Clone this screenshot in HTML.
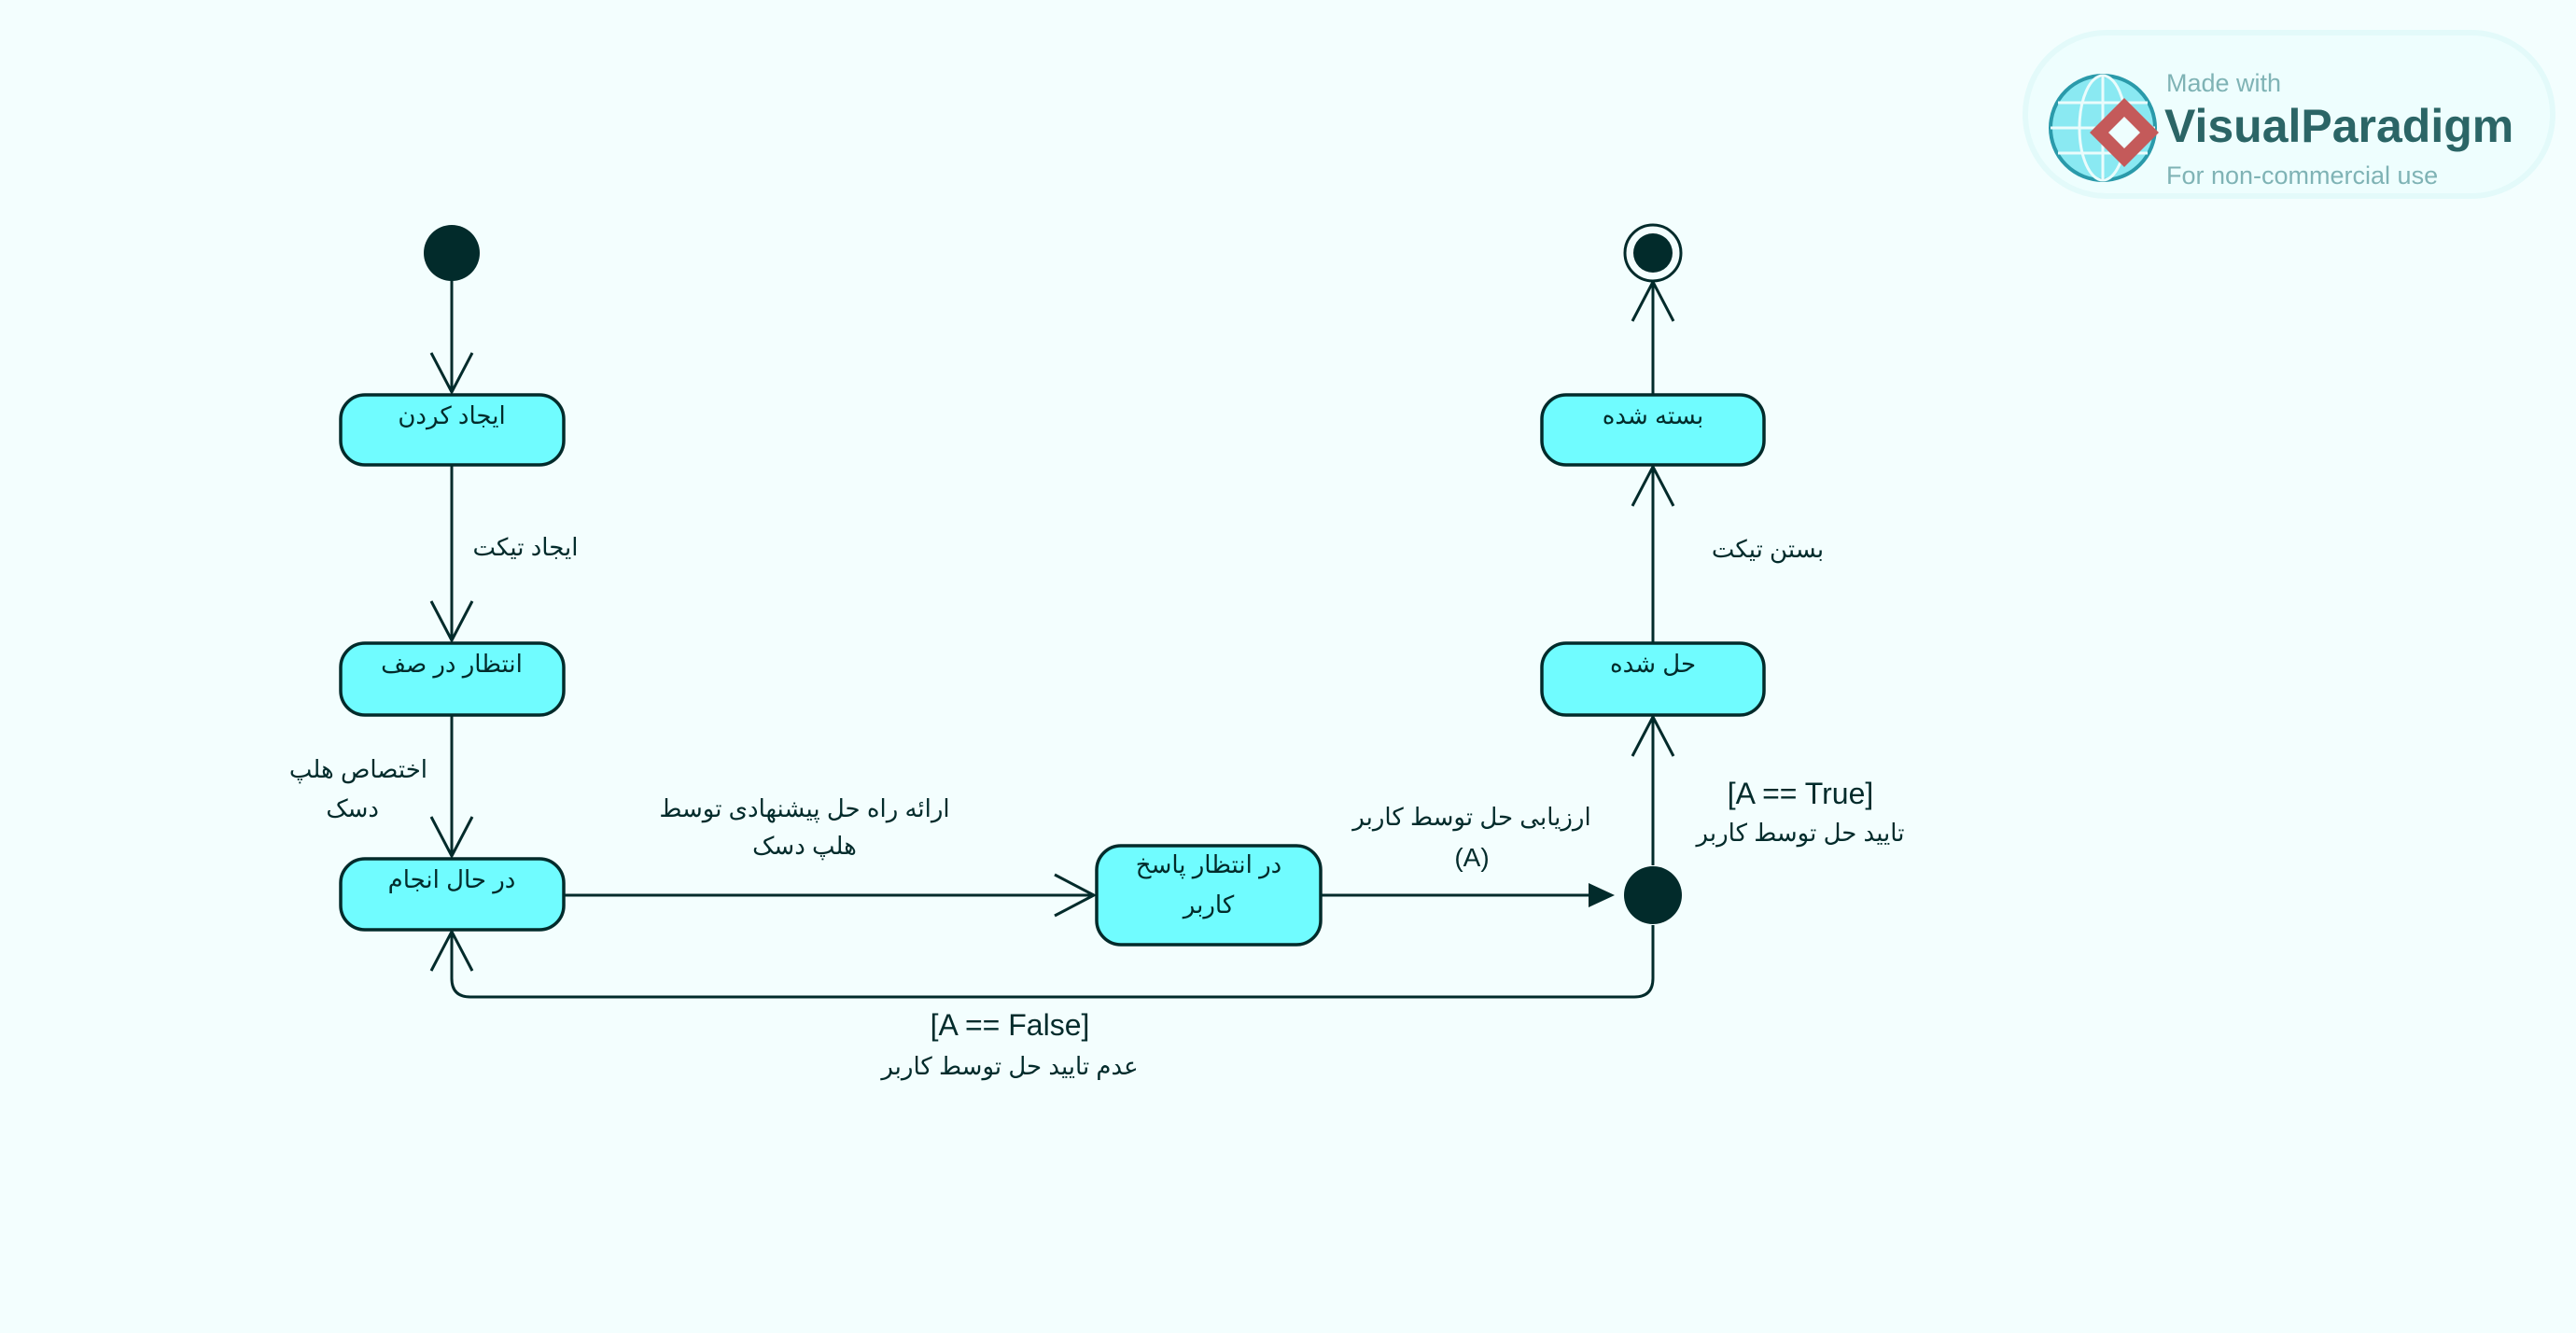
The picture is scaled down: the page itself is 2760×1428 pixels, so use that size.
<!DOCTYPE html>
<html><head><meta charset="utf-8"><style>
html,body{margin:0;padding:0;background:#f3fefe;}
svg{display:block;}
text{font-family:"Liberation Sans","DejaVu Sans",sans-serif;fill:#022b2b;}
</style></head><body>
<svg width="2760" height="1428" viewBox="0 0 2760 1428" xmlns="http://www.w3.org/2000/svg">
<rect width="2760" height="1428" fill="#f3fefe"/>
<!-- watermark -->
<rect x="2170" y="35" width="565" height="175" rx="87" fill="#eefefe" stroke="#e3fafa" stroke-width="6"/>
<circle cx="2253" cy="137" r="56" fill="#8ae9f2" stroke="#2a9aaa" stroke-width="4"/>
<g stroke="#eafcfc" stroke-width="3" fill="none">
<ellipse cx="2253" cy="137" rx="25" ry="56"/><line x1="2197" y1="137" x2="2309" y2="137"/>
<line x1="2205" y1="110" x2="2301" y2="110"/><line x1="2205" y1="164" x2="2301" y2="164"/><line x1="2253" y1="81" x2="2253" y2="193"/>
</g>
<path d="M2276 105 L2313 142 L2276 179 L2239 142 Z" fill="#c45a5a"/>
<path d="M2276 125 L2293 142 L2276 159 L2259 142 Z" fill="#eefefe"/>
<text x="2321" y="98" font-size="27" style="fill:#7fb3b5">Made with</text>
<text x="2319" y="152" font-size="50" font-weight="bold" style="fill:#2b6566">VisualParadigm</text>
<text x="2321" y="197" font-size="27" style="fill:#7fb3b5">For non-commercial use</text>

<g stroke="#022b2b" stroke-width="3" fill="none">
<!-- vertical left -->
<line x1="484" y1="285" x2="484" y2="420"/>
<polyline points="462,378 484,420 506,378"/>
<line x1="484" y1="498" x2="484" y2="686"/>
<polyline points="462,644 484,686 506,644"/>
<line x1="484" y1="766" x2="484" y2="917"/>
<polyline points="462,875 484,917 506,875"/>
<!-- horizontal -->
<line x1="604" y1="959" x2="1172" y2="959"/>
<polyline points="1130,937 1172,959 1130,981"/>
<line x1="1415" y1="959" x2="1720" y2="959"/>
<!-- right verticals -->
<line x1="1771" y1="927" x2="1771" y2="768"/>
<polyline points="1749,810 1771,768 1793,810"/>
<line x1="1771" y1="688" x2="1771" y2="500"/>
<polyline points="1749,542 1771,500 1793,542"/>
<line x1="1771" y1="422" x2="1771" y2="302"/>
<polyline points="1749,344 1771,302 1793,344"/>
<!-- loop -->
<path d="M1771 991 L1771 1048 Q1771 1068 1751 1068 L504 1068 Q484 1068 484 1048 L484 998"/>
<polyline points="462,1040 484,998 506,1040"/>
</g>
<path d="M1702 946 L1730 959 L1702 972 Z" fill="#022b2b"/>

<!-- nodes -->
<circle cx="484" cy="271" r="30" fill="#022b2b"/>
<circle cx="1771" cy="271" r="30" fill="#f3fefe" stroke="#022b2b" stroke-width="3"/>
<circle cx="1771" cy="271" r="21" fill="#022b2b"/>
<circle cx="1771" cy="959" r="31" fill="#022b2b"/>

<g fill="#70fcff" stroke="#022b2b" stroke-width="3.5">
<rect x="365" y="423" width="239" height="75" rx="26"/>
<rect x="365" y="689" width="239" height="77" rx="26"/>
<rect x="365" y="920" width="239" height="76" rx="26"/>
<rect x="1175" y="906" width="240" height="106" rx="26"/>
<rect x="1652" y="689" width="238" height="77" rx="26"/>
<rect x="1652" y="423" width="238" height="75" rx="26"/>
</g>

<g font-size="26" text-anchor="middle" direction="rtl">
<text x="484" y="454">ایجاد کردن</text>
<text x="484" y="720">انتظار در صف</text>
<text x="484" y="951">در حال انجام</text>
<text x="1295" y="935">در انتظار پاسخ</text>
<text x="1295" y="978">کاربر</text>
<text x="1771" y="720">حل شده</text>
<text x="1771" y="454">بسته شده</text>
<text x="563" y="595">ایجاد تیکت</text>
<text x="1894" y="597">بستن تیکت</text>
<text x="862" y="875">ارائه راه حل پیشنهادی توسط</text>
<text x="862" y="915">هلپ دسک</text>
<text x="1577" y="884">ارزیابی حل توسط کاربر</text>
<text x="1929" y="901">تایید حل توسط کاربر</text>
<text x="1082" y="1151">عدم تایید حل توسط کاربر</text>
</g>
<g font-size="26" text-anchor="end" direction="rtl">
<text x="458" y="833" text-anchor="start">اختصاص هلپ</text>
<text x="406" y="875" text-anchor="start">دسک</text>
</g>
<g font-size="32" text-anchor="middle">
<text x="1577" y="928" font-size="28">(A)</text>
<text x="1929" y="861">[A == True]</text>
<text x="1082" y="1109">[A == False]</text>
</g>
</svg>
</body></html>
